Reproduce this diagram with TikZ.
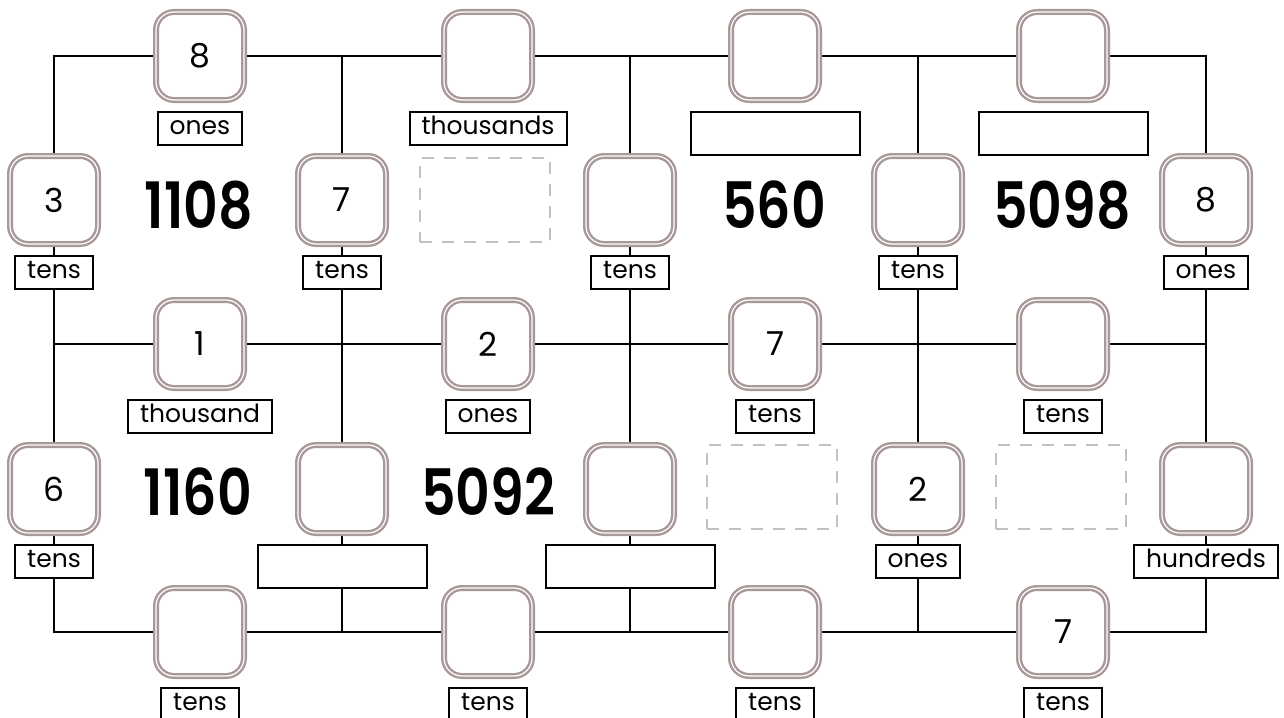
\documentclass[tikz,border=0pt]{standalone}
\usepackage{fontspec}
\setmainfont{Poppins}
\newfontfamily\numfont[FakeStretch=0.84]{Poppins SemiBold}
\usepackage{tikz}
\usetikzlibrary{shapes,calc,positioning}
\definecolor{boxgray}{RGB}{166,153,151}
\definecolor{slotgray}{RGB}{192,192,192}
\newcommand{\bignum}[1]{{\numfont\fontsize{64}{64}\selectfont #1}}

\begin{document}
\begin{tikzpicture}[x=1pt, y=-1pt]
\tikzstyle{cell}=[rectangle, draw=boxgray, line width=2.4pt, double=white, double distance=1.2pt, rounded corners=18pt, fill=white, minimum size=88pt, inner sep=0pt, font=\fontsize{33}{33}\selectfont]
\tikzstyle{tag}=[rectangle, draw=black, line width=2pt, fill=white, minimum height=33pt, inner xsep=12pt, inner ysep=0pt, text height=19pt, text depth=6pt, node distance=72pt, font=\fontsize{25}{25}\selectfont]
\tikzstyle{blank}=[tag, minimum width=169pt, minimum height=43pt, node distance=77pt]
\tikzstyle{slot}=[rectangle, draw=slotgray, line width=2pt, dash pattern=on 12pt off 10pt, minimum width=130pt, minimum height=84pt]
\tikzstyle{numb}=[inner sep=0pt]
\tikzstyle{wire}=[line width=2.8pt, black]

\useasboundingbox (0,0) rectangle (1284,717);
\clip (0,0) rectangle (1284,717);

  % corners of the grid
  \coordinate (A0) at (54,56);
  \coordinate (A1) at (342,56);
  \coordinate (A2) at (630,56);
  \coordinate (A3) at (918,56);
  \coordinate (A4) at (1206,56);
  \coordinate (B0) at (54,344);
  \coordinate (B4) at (1206,344);
  \coordinate (C0) at (54,632);
  \coordinate (C1) at (342,632);
  \coordinate (C2) at (630,632);
  \coordinate (C3) at (918,632);
  \coordinate (C4) at (1206,632);

  \draw[wire] (A0) rectangle (C4);
  \draw[wire] (B0) -- (B4);
  \draw[wire] (A1) -- (C1);
  \draw[wire] (A2) -- (C2);
  \draw[wire] (A3) -- (C3);

  % top row
  \node[cell] (top1) at (200,56)  {8};
  \node[cell] (top2) at (488,56)  {};
  \node[cell] (top3) at (775,56)  {};
  \node[cell] (top4) at (1063,56) {};
  \node[tag]   (top1lab) [below of =top1] {ones};
  \node[tag]   (top2lab) [below of =top2] {thousands};
  \node[blank] (top3lab) [below of =top3] {};
  \node[blank] (top4lab) [below of =top4] {};

  % upper uprights
  \node[cell] (up0) at (54,200)   {3};
  \node[cell] (up1) at (342,200)  {7};
  \node[cell] (up2) at (630,200)  {};
  \node[cell] (up3) at (918,200)  {};
  \node[cell] (up4) at (1206,200) {8};
  \node[tag] (up0lab) [below of =up0] {tens};
  \node[tag] (up1lab) [below of =up1] {tens};
  \node[tag] (up2lab) [below of =up2] {tens};
  \node[tag] (up3lab) [below of =up3] {tens};
  \node[tag] (up4lab) [below of =up4] {ones};

  % middle row
  \node[cell] (mid1) at (200,344)  {1};
  \node[cell] (mid2) at (488,344)  {2};
  \node[cell] (mid3) at (775,344)  {7};
  \node[cell] (mid4) at (1063,344) {};
  \node[tag] (mid1lab) [below of =mid1] {thousand};
  \node[tag] (mid2lab) [below of =mid2] {ones};
  \node[tag] (mid3lab) [below of =mid3] {tens};
  \node[tag] (mid4lab) [below of =mid4] {tens};

  % lower uprights
  \node[cell] (low0) at (54,489)   {6};
  \node[cell] (low1) at (342,489)  {};
  \node[cell] (low2) at (630,489)  {};
  \node[cell] (low3) at (918,489)  {2};
  \node[cell] (low4) at (1206,489) {};
  \node[tag]   (low0lab) [below of =low0] {tens};
  \node[blank] (low1lab) [below of =low1] {};
  \node[blank] (low2lab) [below of =low2] {};
  \node[tag]   (low3lab) [below of =low3] {ones};
  \node[tag]   (low4lab) [below of =low4] {hundreds};

  % bottom row
  \node[cell] (bot1) at (200,632)  {};
  \node[cell] (bot2) at (488,632)  {};
  \node[cell] (bot3) at (775,632)  {};
  \node[cell] (bot4) at (1063,632) {7};
  \node[tag] (bot1lab) [below of =bot1] {tens};
  \node[tag] (bot2lab) [below of =bot2] {tens};
  \node[tag] (bot3lab) [below of =bot3] {tens};
  \node[tag] (bot4lab) [below of =bot4] {tens};

  % numbers and empty slots
  \node[numb] (n1108) at (199,205) {\bignum{1108}};
  \node[slot] (slotA) at (485,200) {};
  \node[numb] (n560)  at (774,205) {\bignum{560}};
  \node[numb] (n5098) at (1062,205) {\bignum{5098}};
  \node[numb] (n1160) at (198,492) {\bignum{1160}};
  \node[numb] (n5092) at (488,492) {\bignum{5092}};
  \node[slot] (slotB) at (772,487) {};
  \node[slot] (slotC) at (1061,487) {};

\end{tikzpicture}
\end{document}
